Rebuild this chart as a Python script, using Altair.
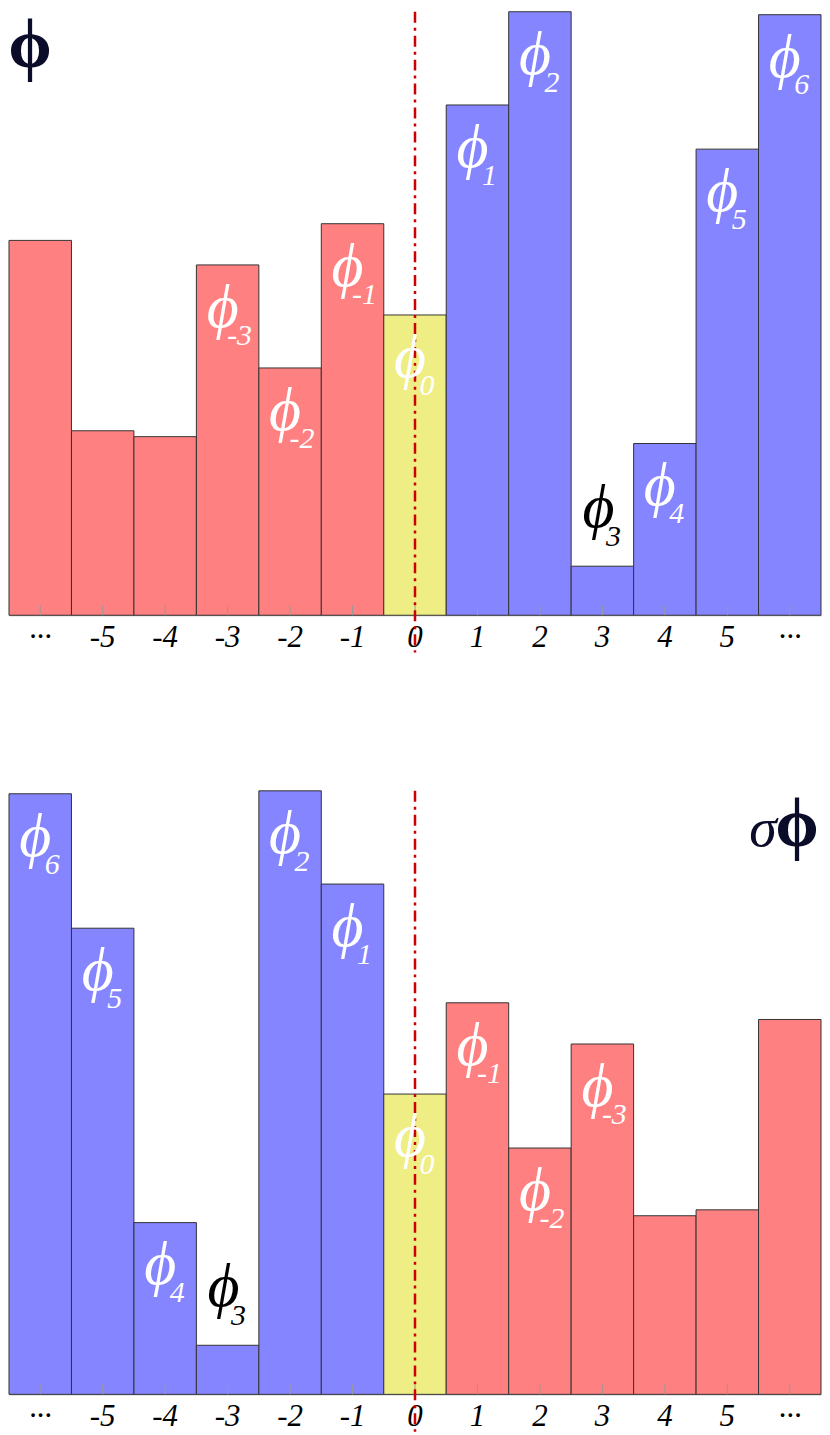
import json
import altair as alt
import pandas as pd

positions = list(range(13))
tick_labels = ["···", "-5", "-4", "-3", "-2", "-1", "0", "1", "2", "3", "4", "5", "···"]

top_values = [382, 188, 182, 357, 252, 399, 306, 520, 615, 50, 175, 475, 612]
top_groups = ["neg"] * 6 + ["zero"] + ["pos"] * 6
top_subs = ["", "", "", "-3", "-2", "-1", "0", "1", "2", "3", "4", "5", "6"]

bottom_values = [612, 475, 175, 50, 615, 520, 306, 399, 251, 357, 182, 188, 382]
bottom_groups = ["pos"] * 6 + ["zero"] + ["neg"] * 6
bottom_subs = ["6", "5", "4", "3", "2", "1", "0", "-1", "-2", "-3", "", "", ""]

PHI = "\u03d5"
W, H = 814, 605
SERIF = "Liberation Serif"

label_expr = json.dumps(tick_labels) + "[datum.value]"


def panel(values, groups, subs, corner):
    df = pd.DataFrame({"pos": positions, "value": values, "group": groups, "sub": subs})
    df["phi"] = [PHI if s else "" for s in subs]
    base = alt.Chart(df)
    x = alt.X("pos:O", scale=alt.Scale(paddingInner=0, paddingOuter=0),
              axis=alt.Axis(title=None, labelExpr=label_expr, labelAngle=0, ticks=False,
                            domainColor="#aaaaaa", labelBaseline="top"))
    y = alt.Y("value:Q", scale=alt.Scale(domain=[0, 615], nice=False, zero=True), axis=None)
    bars = base.mark_bar(stroke="#333333", strokeWidth=1, opacity=1).encode(
        x=x, y=y,
        color=alt.Color("group:N", scale=alt.Scale(domain=["neg", "zero", "pos"],
                                                   range=["#FF8080", "#EFEE84", "#8585FF"]),
                        legend=None),
    )
    ticks = base.mark_rule(color="#999999", strokeWidth=1).encode(
        x="pos:O", y=alt.datum(0), y2=alt.datum(10))
    dash = base.transform_filter("datum.pos == 6").mark_rule(
        color="#CC0000", strokeWidth=2.5, strokeDash=[11, 5, 3, 5]).encode(
        x="pos:O", y=alt.datum(615), y2=alt.datum(-38))

    inside = base.transform_filter("datum.sub != '' && datum.sub != '3'")
    outside = base.transform_filter("datum.sub == '3'")
    phi_in = inside.mark_text(font=SERIF, fontStyle="italic", fontSize=62, color="white",
                              dx=-5, dy=43, baseline="middle").encode(x="pos:O", y="value:Q", text="phi:N")
    sub_in = inside.mark_text(font=SERIF, fontStyle="italic", fontSize=30, color="white",
                              dx=12, dy=71, baseline="middle").encode(x="pos:O", y="value:Q", text="sub:N")
    phi_out = outside.mark_text(font=SERIF, fontStyle="italic", fontSize=62, color="black",
                                dx=-4, dy=-58, baseline="middle").encode(x="pos:O", y="value:Q", text="phi:N")
    sub_out = outside.mark_text(font=SERIF, fontStyle="italic", fontSize=30, color="black",
                                dx=11, dy=-29, baseline="middle").encode(x="pos:O", y="value:Q", text="sub:N")

    corner_layers = []
    for txt, cx, cy, style, size in corner:
        corner_layers.append(
            alt.Chart(pd.DataFrame({"t": [txt]})).mark_text(
                font=SERIF, fontStyle=style, fontSize=size, color="#0b0b2a", baseline="top",
                fontWeight="bold" if style == "normal" else "normal"
            ).encode(x=alt.value(cx), y=alt.value(cy), text="t:N")
        )
    return alt.layer(bars, ticks, dash, phi_in, sub_in, phi_out, sub_out, *corner_layers).properties(
        width=W, height=H)


top = panel(top_values, top_groups, top_subs, [(PHI, 21, 0, "normal", 70)])
bottom = panel(bottom_values, bottom_groups, bottom_subs,
               [("\u03c3", 756, 11, "italic", 56), (PHI, 790, 0, "normal", 70)])

chart = alt.vconcat(top, bottom, spacing=135).properties(padding=0).configure_view(
    stroke=None).configure_axis(labelFont=SERIF, labelFontStyle="italic", labelFontSize=31,
                                labelColor="black", labelPadding=7, grid=False)

chart.save("out.html", embed_options={"renderer": "svg", "actions": False})
